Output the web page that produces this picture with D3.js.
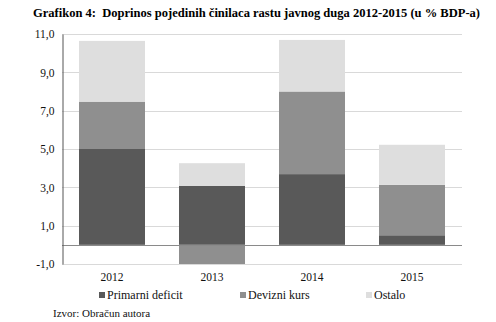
<!DOCTYPE html>
<html><head><meta charset="utf-8">
<script src="https://cdn.jsdelivr.net/npm/d3@7"></script>
<style>body{margin:0;background:#fff}svg{display:block}text{font-family:"Liberation Serif","Times New Roman",serif}</style>
</head><body><svg id="c" width="496" height="322"></svg>
<script>
const categories = ["2012","2013","2014","2015"];
const seriesNames = ["Primarni deficit","Devizni kurs","Ostalo"];
const primarniDeficit = [5.0, 3.08, 3.69, 0.5];
const devizniKurs = [2.47, -1.0, 4.31, 2.63];
const ostalo = [3.17, 1.18, 2.69, 2.09];
const yTicks = [-1, 1, 3, 5, 7, 9, 11];
const colors = ["#595959", "#8f8f8f", "#dedede"];

const svg = d3.select("#c");
const m = {l:62, r:34, t:34, b:58};
const W = 496, H = 322;
const x = d3.scaleBand().domain(categories).range([m.l, W - m.r]).paddingInner(0.34).paddingOuter(0.17);
const y = d3.scaleLinear().domain([-1, 11]).range([264, 34]);

svg.append("text").attr("x", 33).attr("y", 17).attr("font-weight", "bold").attr("font-size", 12.5)
  .attr("textLength", 447).attr("lengthAdjust", "spacingAndGlyphs")
  .attr("xml:space", "preserve")
  .text("Grafikon 4:  Doprinos pojedinih činilaca rastu javnog duga 2012-2015 (u % BDP-a)");

// gridlines
svg.append("g").selectAll("line").data(yTicks).join("line")
  .attr("x1", m.l).attr("x2", W - m.r).attr("y1", d => Math.round(y(d)) + 0.5).attr("y2", d => Math.round(y(d)) + 0.5)
  .attr("stroke", "#d9d9d9").attr("stroke-width", 1);

// stacked data
const data = categories.map((c, i) => ({cat: c, vals: [primarniDeficit[i], devizniKurs[i], ostalo[i]]}));
const rects = [];
data.forEach(d => {
  let pos = 0, neg = 0;
  d.vals.forEach((v, k) => {
    if (v >= 0) { rects.push({cat: d.cat, k, y0: pos, y1: pos + v}); pos += v; }
    else { rects.push({cat: d.cat, k, y0: neg + v, y1: neg}); neg += v; }
  });
});
svg.append("g").selectAll("rect").data(rects).join("rect")
  .attr("x", d => x(d.cat)).attr("width", x.bandwidth())
  .attr("y", d => y(d.y1)).attr("height", d => y(d.y0) - y(d.y1))
  .attr("fill", d => colors[d.k]);

// zero line
svg.append("line").attr("x1", m.l).attr("x2", W - m.r).attr("y1", Math.round(y(0)) + 0.5).attr("y2", Math.round(y(0)) + 0.5)
  .attr("stroke", "#8a8a8a").attr("stroke-width", 1);

// y axis
const ya = d3.axisLeft(y).tickValues(yTicks).tickSize(0).tickPadding(8)
  .tickFormat(d => d3.format(".1f")(d).replace(".", ",").replace("\u2212", "-"));
const yg = svg.append("g").attr("transform", `translate(${m.l + 0.5},0)`).call(ya);
yg.select(".domain").attr("stroke", "#555");
yg.selectAll("text").attr("font-size", 11.5).attr("fill", "#111");

// x labels
svg.append("g").selectAll("text").data(categories).join("text")
  .attr("x", d => x(d) + x.bandwidth() / 2).attr("y", 281).attr("text-anchor", "middle")
  .attr("font-size", 11.5).attr("fill", "#111").text(d => d);

// legend
const legX = [99, 240, 366];
const lg = svg.append("g").selectAll("g").data(seriesNames).join("g")
  .attr("transform", (d, i) => `translate(${legX[i]},0)`);
lg.append("rect").attr("x", 0).attr("y", 292).attr("width", 6).attr("height", 6).attr("fill", (d, i) => colors[i]);
lg.append("text").attr("x", 8).attr("y", 299).attr("font-size", 12).attr("fill", "#111").text(d => d);

svg.append("text").attr("x", 53).attr("y", 317).attr("font-size", 11).attr("fill", "#111").text("Izvor: Obračun autora");
</script></body></html>
